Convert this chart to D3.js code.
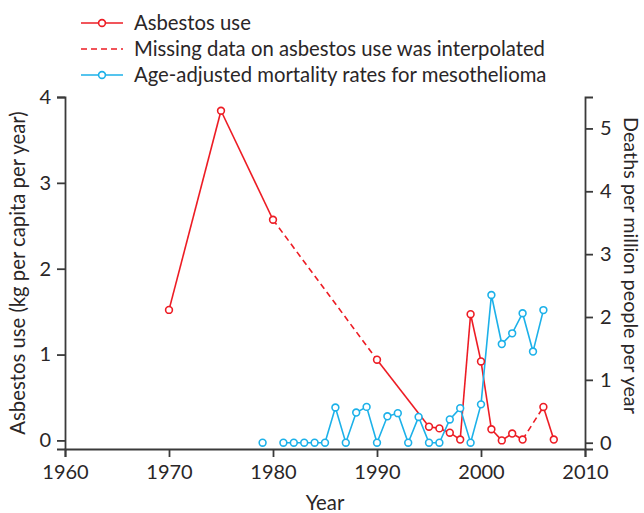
<!DOCTYPE html>
<html>
<head>
<meta charset="utf-8">
<script src="https://cdn.jsdelivr.net/npm/d3@7"></script>
<style>
  body { margin: 0; background: #fff; }
  svg text { font-family: Lato, "Open Sans", sans-serif; fill: #2a2627; }
  .axis path, .axis line { stroke: #3a3a3a; stroke-width: 1.8; }
  .axis text { font-size: 20px; }
</style>
</head>
<body>
<svg width="644" height="513"></svg>
<script>
// asbestos use, kg per capita per year (left axis)
var useYears = [1970, 1975, 1980, 1990, 1995, 1996, 1997, 1998, 1999, 2000, 2001, 2002, 2003, 2004, 2006, 2007];
var useValues = [1.52, 3.84, 2.57, 0.94, 0.16, 0.14, 0.09, 0.01, 1.47, 0.92, 0.13, 0.0, 0.08, 0.01, 0.39, 0.01];
// gaps where missing years were interpolated (drawn dashed)
var interpolated = [[1980, 1990], [2004, 2006]];

// mesothelioma deaths per million (right axis), null = no data
var deathYears = [1979, 1980, 1981, 1982, 1983, 1984, 1985, 1986, 1987, 1988, 1989, 1990, 1991, 1992,
                  1993, 1994, 1995, 1996, 1997, 1998, 1999, 2000, 2001, 2002, 2003, 2004, 2005, 2006];
var deathValues = [0, null, 0, 0, 0, 0, 0, 0.56, 0, 0.48, 0.57, 0, 0.42, 0.47,
                   0, 0.41, 0, 0, 0.37, 0.55, 0, 0.61, 2.35, 1.57, 1.74, 2.06, 1.45, 2.11];

var xTicks = [1960, 1970, 1980, 1990, 2000, 2010];
var leftTicks = [0, 1, 2, 3, 4];
var rightTicks = [0, 1, 2, 3, 4, 5];

var legendLabels = ["Asbestos use", "Missing data on asbestos use was interpolated",
                    "Age-adjusted mortality rates for mesothelioma"];

var red = "#ed1c24",
    blue = "#1cb1e9";

var svg = d3.select("svg");

var x = d3.scaleLinear().domain([1960, 2010]).range([65, 585]);
var yL = d3.scaleLinear().domain([-0.1, 4]).range([449, 97]);
var yR = d3.scaleLinear().domain([-0.1, 5.5]).range([449, 97]);

svg.append("g")
    .attr("class", "axis")
    .attr("transform", "translate(0,449)")
    .call(d3.axisBottom(x).tickValues(xTicks).tickFormat(d3.format("d"))
      .tickSizeOuter(0).tickSize(8).tickPadding(8));

svg.append("g")
    .attr("class", "axis")
    .attr("transform", "translate(65,0)")
    .call(d3.axisLeft(yL).tickValues(leftTicks).tickFormat(d3.format("d"))
      .tickSizeOuter(0).tickSize(8).tickPadding(6));

svg.append("g")
    .attr("class", "axis")
    .attr("transform", "translate(585,0)")
    .call(d3.axisRight(yR).tickValues(rightTicks).tickFormat(d3.format("d"))
      .tickSizeOuter(0).tickSize(8).tickPadding(7));

svg.selectAll(".axis .domain").attr("fill", "none");

// axis titles
svg.append("text")
    .attr("transform", "translate(25,273) rotate(-90)")
    .attr("text-anchor", "middle")
    .style("font-size", "20.3px")
    .text("Asbestos use (kg per capita per year)");

svg.append("text")
    .attr("transform", "translate(624,117) rotate(90)")
    .attr("text-anchor", "start")
    .style("font-size", "19.8px")
    .text("Deaths per million people per year");

svg.append("text")
    .attr("x", 325)
    .attr("y", 510)
    .attr("text-anchor", "middle")
    .style("font-size", "20.3px")
    .text("Year");

// asbestos use, segment by segment so interpolated gaps can be dashed
var usePts = useYears.map(function(d, i) { return {year: d, value: useValues[i]}; });
var isDashed = function(a, b) {
  return interpolated.some(function(g) { return g[0] === a.year && g[1] === b.year; });
};
var segs = d3.pairs(usePts);

svg.append("g")
  .selectAll("line")
  .data(segs)
  .enter().append("line")
    .attr("x1", function(d) { return x(d[0].year); })
    .attr("y1", function(d) { return yL(d[0].value); })
    .attr("x2", function(d) { return x(d[1].year); })
    .attr("y2", function(d) { return yL(d[1].value); })
    .attr("stroke", red)
    .attr("stroke-width", 1.6)
    .attr("stroke-dasharray", function(d) { return isDashed(d[0], d[1]) ? "6,4" : null; });

// mortality line
var deathPts = deathYears.map(function(d, i) { return {year: d, value: deathValues[i]}; });
var deathLine = d3.line()
    .defined(function(d) { return d.value !== null; })
    .x(function(d) { return x(d.year); })
    .y(function(d) { return yR(d.value); });

svg.append("path")
    .datum(deathPts)
    .attr("d", deathLine)
    .attr("fill", "none")
    .attr("stroke", blue)
    .attr("stroke-width", 1.6);

svg.append("g")
  .selectAll("circle")
  .data(deathPts.filter(function(d) { return d.value !== null; }))
  .enter().append("circle")
    .attr("cx", function(d) { return x(d.year); })
    .attr("cy", function(d) { return yR(d.value); })
    .attr("r", 3.4)
    .attr("fill", "#fff")
    .attr("stroke", blue)
    .attr("stroke-width", 1.6);

svg.append("g")
  .selectAll("circle")
  .data(usePts)
  .enter().append("circle")
    .attr("cx", function(d) { return x(d.year); })
    .attr("cy", function(d) { return yL(d.value); })
    .attr("r", 3.4)
    .attr("fill", "#fff")
    .attr("stroke", red)
    .attr("stroke-width", 1.6);

// legend
var legend = svg.append("g")
  .selectAll("g")
  .data(legendLabels)
  .enter().append("g")
    .attr("transform", function(d, i) { return "translate(81," + (23 + i * 26) + ")"; });

legend.append("line")
    .attr("x1", 0).attr("x2", 42)
    .attr("stroke", function(d, i) { return i === 2 ? blue : red; })
    .attr("stroke-width", 1.6)
    .attr("stroke-dasharray", function(d, i) { return i === 1 ? "6,4" : null; });

legend.filter(function(d, i) { return i !== 1; })
  .append("circle")
    .attr("cx", 21)
    .attr("r", 3.4)
    .attr("fill", "#fff")
    .attr("stroke", function(d, i) { return i === 1 ? blue : red; })
    .attr("stroke-width", 1.6);

legend.append("text")
    .attr("x", 53)
    .attr("y", 7)
    .style("font-size", "20.3px")
    .text(function(d) { return d; });
</script>
</body>
</html>
